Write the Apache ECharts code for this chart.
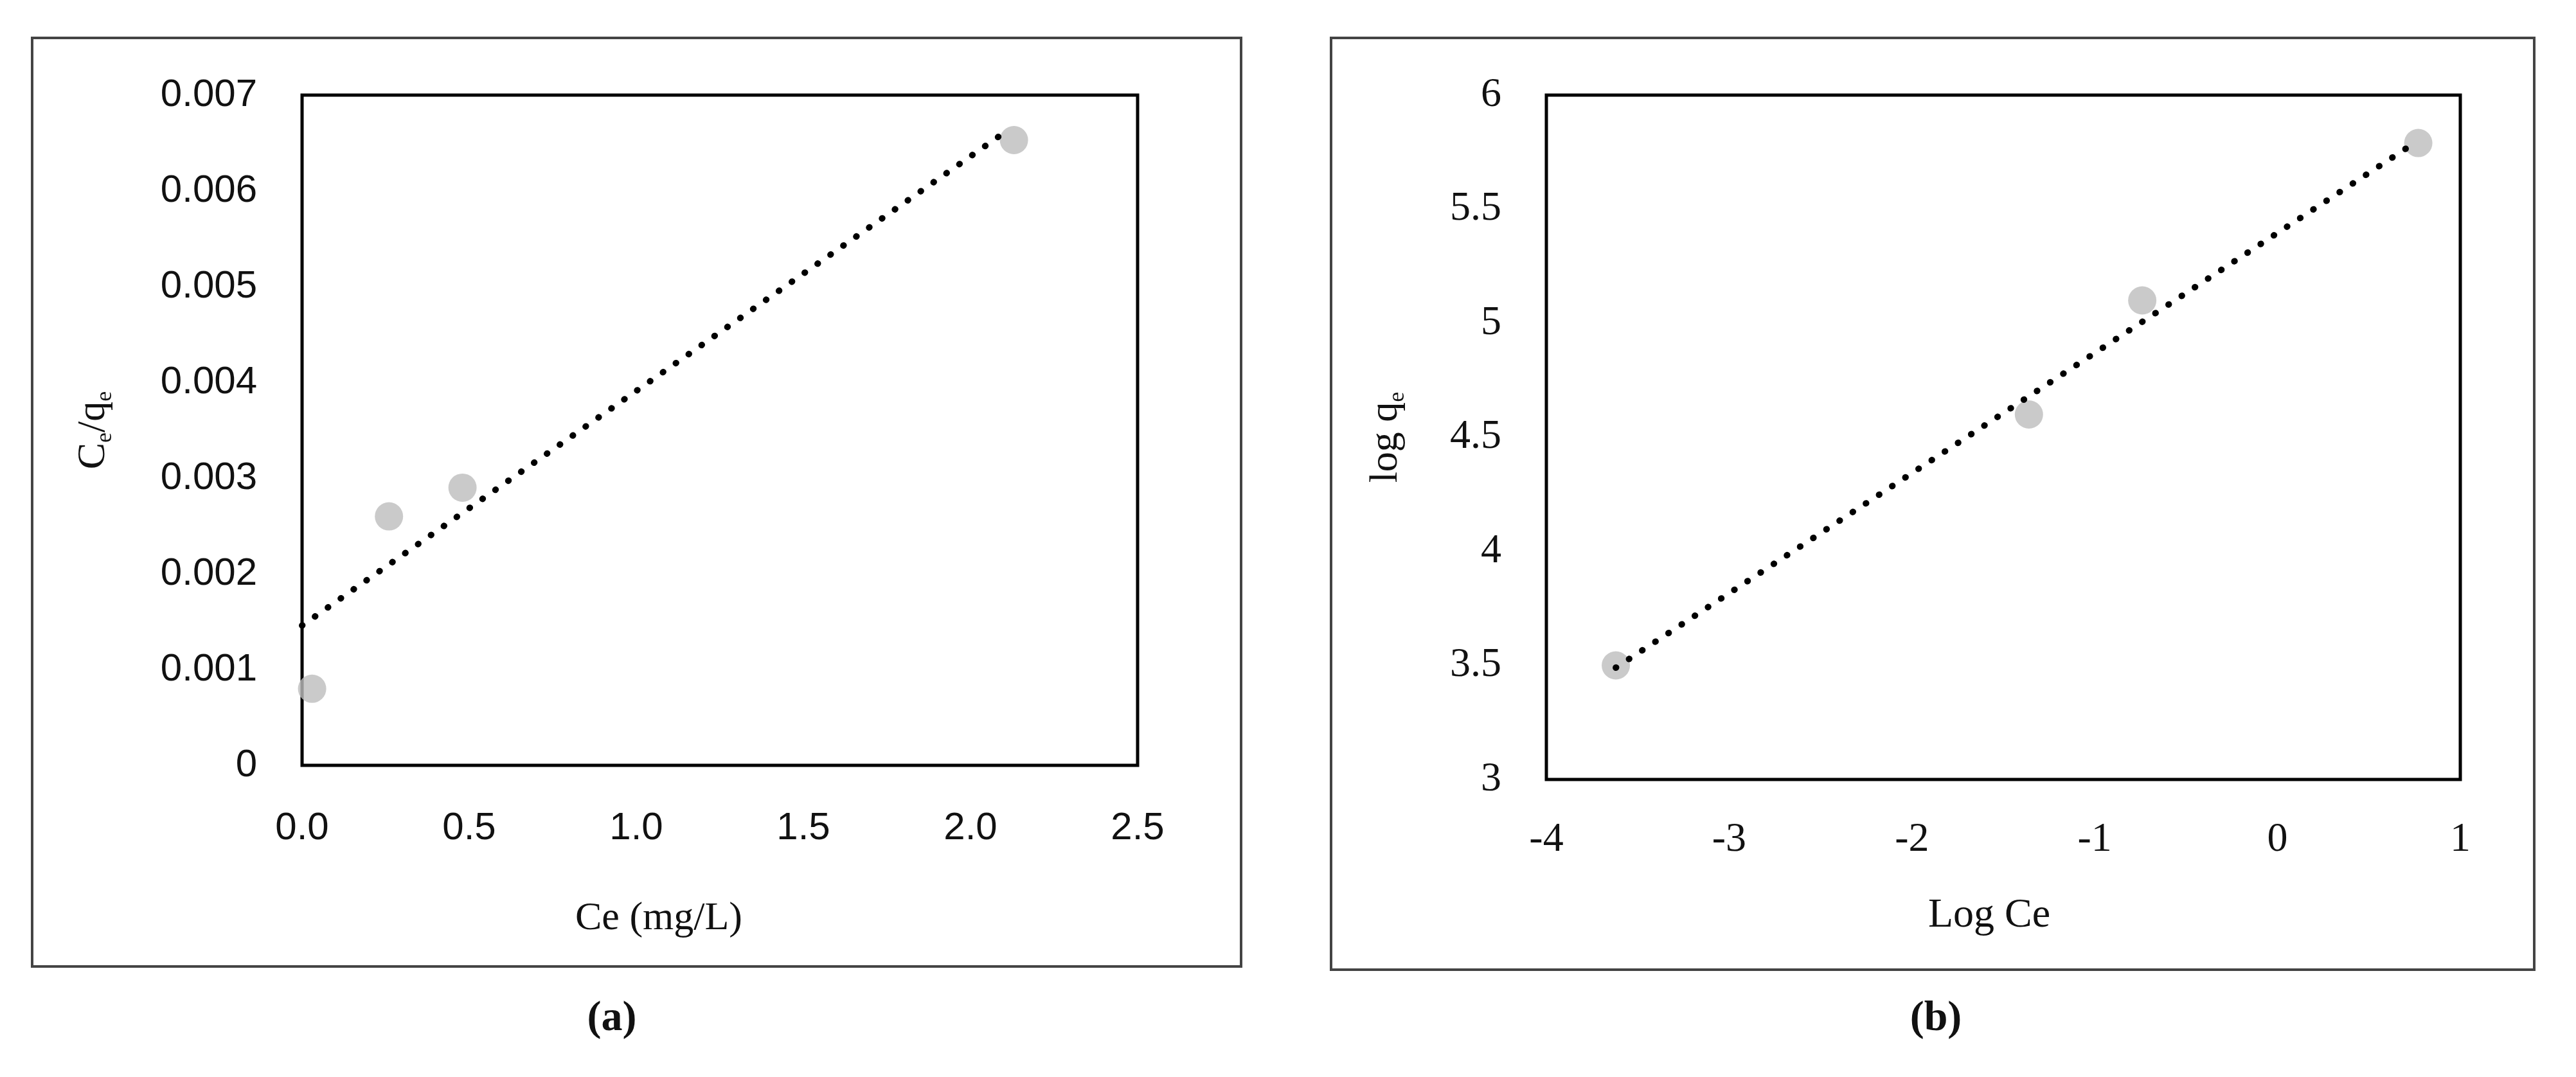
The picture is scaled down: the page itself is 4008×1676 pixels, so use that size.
<!DOCTYPE html>
<html>
<head>
<meta charset="utf-8">
<script src="https://cdn.jsdelivr.net/npm/echarts@6/dist/echarts.min.js"></script>
<style>
html, body { margin: 0; padding: 0; background: #fff; }
#main { width: 4008px; height: 1676px; }
</style>
</head>
<body>
<div id="main"></div>
<script>
// (a) Langmuir: Ce vs Ce/qe
var ceA = [0.03, 0.26, 0.48, 2.13];
var ratioA = [0.0008, 0.0026, 0.0029, 0.00653];
var trendAx = [0, 2.11];
var trendAy = [0.00146, 0.00663];
var xTicksA = [0, 2.5, 0.5];
var yTicksA = [0, 0.007, 0.001];

// (b) Freundlich: log Ce vs log qe
var logCeB = [-3.62, -1.36, -0.74, 0.77];
var logQeB = [3.50, 4.60, 5.10, 5.79];
var trendBx = [-3.62, 0.73];
var trendBy = [3.49, 5.78];
var xTicksB = [-4, 1, 1];
var yTicksB = [3, 6, 0.5];

function pairs(xs, ys) {
    var out = [];
    for (var i = 0; i < xs.length; i++) {
        out.push([xs[i], ys[i]]);
    }
    return out;
}

var serif = '"Liberation Serif", "DejaVu Serif", serif';
var sans = '"Liberation Sans", "DejaVu Sans", sans-serif';
var markerColor = '#BDBDBD';

//点线样式
var dotted = {
    color: '#000',
    width: 10,
    type: [0.5, 24],
    cap: 'round'
};

var subRich = {
    n: { fontFamily: serif, fontSize: 62, color: '#111', lineHeight: 72, verticalAlign: 'middle' },
    s: { fontFamily: serif, fontSize: 36, color: '#111', lineHeight: 72, verticalAlign: 'bottom' }
};

var option = {
    backgroundColor: '#fff',
    animation: false,
    grid: [
        { left: 470, top: 148, width: 1300, height: 1043, show: true, borderColor: '#000', borderWidth: 5, containLabel: false },
        { left: 2406, top: 148, width: 1422, height: 1065, show: true, borderColor: '#000', borderWidth: 5, containLabel: false }
    ],
    xAxis: [
        {
            type: 'value', gridIndex: 0,
            min: xTicksA[0], max: xTicksA[1], interval: xTicksA[2],
            axisLine: { show: false }, axisTick: { show: false }, splitLine: { show: false },
            axisLabel: {
                margin: 68, color: '#111', fontFamily: sans, fontSize: 60,
                formatter: function (v) { return v.toFixed(1); }
            },
            name: 'Ce (mg/L)', nameLocation: 'middle', nameGap: 208,
            nameTextStyle: { color: '#111', fontFamily: serif, fontSize: 62, padding: [0, 190, 0, 0] }
        },
        {
            type: 'value', gridIndex: 1,
            min: xTicksB[0], max: xTicksB[1], interval: xTicksB[2],
            axisLine: { show: false }, axisTick: { show: false }, splitLine: { show: false },
            axisLabel: { margin: 62, color: '#111', fontFamily: serif, fontSize: 64 },
            name: 'Log Ce', nameLocation: 'middle', nameGap: 180,
            nameTextStyle: { color: '#111', fontFamily: serif, fontSize: 64, padding: [0, 44, 0, 0] }
        }
    ],
    yAxis: [
        {
            type: 'value', gridIndex: 0,
            min: yTicksA[0], max: yTicksA[1], interval: yTicksA[2],
            axisLine: { show: false }, axisTick: { show: false }, splitLine: { show: false },
            axisLabel: {
                margin: 70, color: '#111', fontFamily: sans, fontSize: 60,
                formatter: function (v) { return v === 0 ? '0' : v.toFixed(3); }
            },
            name: '{n|C}{s|e}{n|/q}{s|e}', nameLocation: 'middle', nameGap: 288, nameRotate: 90,
            nameTextStyle: { rich: subRich }
        },
        {
            type: 'value', gridIndex: 1,
            min: yTicksB[0], max: yTicksB[1], interval: yTicksB[2],
            axisLine: { show: false }, axisTick: { show: false }, splitLine: { show: false },
            axisLabel: { margin: 70, color: '#111', fontFamily: serif, fontSize: 64 },
            name: '{n|log q}{s|e}', nameLocation: 'middle', nameGap: 213, nameRotate: 90,
            nameTextStyle: { rich: subRich }
        }
    ],
    series: [
        {
            type: 'scatter', xAxisIndex: 0, yAxisIndex: 0,
            symbolSize: 44, itemStyle: { color: markerColor },
            data: pairs(ceA, ratioA), z: 2
        },
        {
            type: 'line', xAxisIndex: 0, yAxisIndex: 0,
            showSymbol: false, symbol: 'none', lineStyle: dotted,
            data: pairs(trendAx, trendAy), z: 3
        },
        {
            type: 'scatter', xAxisIndex: 1, yAxisIndex: 1,
            symbolSize: 44, itemStyle: { color: markerColor },
            data: pairs(logCeB, logQeB), z: 2
        },
        {
            type: 'line', xAxisIndex: 1, yAxisIndex: 1,
            showSymbol: false, symbol: 'none', lineStyle: dotted,
            data: pairs(trendBx, trendBy), z: 3
        }
    ],
    graphic: [
        // 外框
        { type: 'rect', shape: { x: 50, y: 59, width: 1881, height: 1445 }, style: { fill: 'none', stroke: '#444', lineWidth: 4 } },
        { type: 'rect', shape: { x: 2071, y: 59, width: 1872, height: 1450 }, style: { fill: 'none', stroke: '#444', lineWidth: 4 } },
        // 子图标号
        { type: 'text', x: 952, y: 1586, style: { text: '(a)', fontFamily: serif, fontWeight: 'bold', fontSize: 66, fill: '#111', align: 'center', verticalAlign: 'middle' } },
        { type: 'text', x: 3012, y: 1586, style: { text: '(b)', fontFamily: serif, fontWeight: 'bold', fontSize: 66, fill: '#111', align: 'center', verticalAlign: 'middle' } }
    ]
};

var chart = echarts.init(document.getElementById('main'));
chart.setOption(option);
</script>
</body>
</html>
